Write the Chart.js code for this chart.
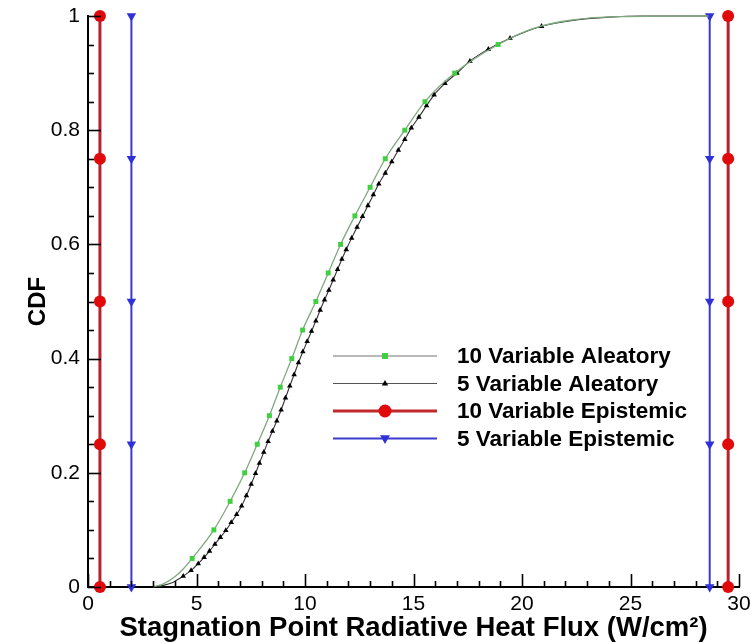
<!DOCTYPE html>
<html>
<head>
<meta charset="utf-8">
<script src="https://cdn.jsdelivr.net/npm/chart.js@4.4.1/dist/chart.umd.min.js"></script>
<style>
  html, body { margin: 0; padding: 0; background: #fff; }
</style>
</head>
<body>
<canvas id="cdfChart" width="751" height="643"></canvas>
<script>
// 10 variable aleatory CDF (green squares every 0.05)
const aleatory10X = [3.0, 3.5, 4.0, 4.4, 4.8, 5.8, 6.55, 7.22, 7.8, 8.36, 8.86, 9.39, 9.89, 10.5, 11.07, 11.64, 12.3, 13.0, 13.7, 14.6, 15.53, 16.9, 18.9, 20.5, 22.3, 24.5, 28.6];
const aleatory10Y = [0, 0.006, 0.018, 0.032, 0.05, 0.1, 0.15, 0.2, 0.25, 0.3, 0.35, 0.4, 0.45, 0.5, 0.55, 0.6, 0.65, 0.7, 0.75, 0.8, 0.85, 0.9, 0.95, 0.978, 0.993, 0.999, 1];

// 5 variable aleatory CDF (small black triangles)
const aleatory5X = [3.2, 3.9, 4.39, 4.75, 5.08, 5.35, 5.6, 5.85, 6.1, 6.35, 6.6, 6.85, 7.08, 7.3, 7.52, 7.72, 7.9, 8.1, 8.3, 8.5, 8.7, 8.9, 9.1, 9.3, 9.5, 9.7, 9.9, 10.1, 10.3, 10.5, 10.7, 10.9, 11.1, 11.3, 11.5, 11.7, 11.9, 12.15, 12.4, 12.65, 12.9, 13.15, 13.4, 13.7, 14.0, 14.3, 14.6, 14.9, 15.25, 15.6, 15.95, 16.45, 17.0, 17.6, 18.45, 19.45, 20.9, 22.5, 24.0, 25.5, 28.6];
const aleatory5Y = [0, 0.008, 0.019, 0.029, 0.041, 0.052, 0.063, 0.075, 0.087, 0.099, 0.113, 0.127, 0.142, 0.16, 0.18, 0.199, 0.217, 0.236, 0.255, 0.273, 0.291, 0.31, 0.331, 0.352, 0.372, 0.393, 0.412, 0.43, 0.448, 0.466, 0.485, 0.503, 0.52, 0.538, 0.556, 0.574, 0.591, 0.611, 0.63, 0.649, 0.668, 0.687, 0.706, 0.725, 0.745, 0.765, 0.784, 0.804, 0.823, 0.843, 0.862, 0.882, 0.9, 0.921, 0.942, 0.961, 0.982, 0.993, 0.998, 1, 1];

// epistemic bounds (vertical lines) and the CDF levels marked on them
const epistemicCdf = [0, 0.25, 0.5, 0.75, 1];
const epistemic10Bounds = [0.55, 29.5];
const epistemic5Bounds = [2.0, 28.65];

const xTickLabels = [0, 5, 10, 15, 20, 25, 30];
const yTickLabels = [0, 0.2, 0.4, 0.6, 0.8, 1];

const seriesLabels = ['10 Variable Aleatory', '5 Variable Aleatory', '10 Variable Epistemic', '5 Variable Epistemic'];

const FONT = '"Liberation Sans", Arial, sans-serif';

const toPoints = (xs, ys) => xs.map((x, i) => ({ x: x, y: ys[i] }));

// two vertical lines with a gap between them
function boundPoints(bounds) {
    const pts = [];
    bounds.forEach((b, k) => {
        if (k > 0) pts.push({ x: b, y: null });
        epistemicCdf.forEach(c => pts.push({ x: b, y: c }));
    });
    return pts;
}

const onStep = v => v > 0 && v < 1 && Math.abs(v * 20 - Math.round(v * 20)) < 1e-6;

function drawMark(ctx, style, x, y, r, fill, rot) {
    ctx.save();
    ctx.fillStyle = fill;
    ctx.translate(x, y);
    ctx.rotate((rot || 0) * Math.PI / 180);
    ctx.beginPath();
    if (style === 'circle') {
        ctx.arc(0, 0, r, 0, Math.PI * 2);
    } else if (style === 'rect') {
        ctx.rect(-r * 0.75, -r * 0.75, r * 1.5, r * 1.5);
    } else if (style === 'triangle') {
        ctx.moveTo(0, -r);
        ctx.lineTo(r * 0.9, r * 0.6);
        ctx.lineTo(-r * 0.9, r * 0.6);
        ctx.closePath();
    }
    ctx.fill();
    ctx.restore();
}

// Tecplot style inward ticks
const inwardTicks = {
    id: 'inwardTicks',
    afterDraw(chart) {
        const { ctx, scales: { x, y } } = chart;
        ctx.save();
        ctx.strokeStyle = '#000';
        ctx.lineWidth = 1.6;
        for (let v = 0; v <= 30; v++) {
            const px = Math.round(x.getPixelForValue(v)) + 0.5;
            const len = xTickLabels.includes(v) ? 13 : 6;
            ctx.beginPath();
            ctx.moveTo(px, y.bottom);
            ctx.lineTo(px, y.bottom - len);
            ctx.stroke();
        }
        for (let i = 0; i <= 20; i++) {
            const py = Math.round(y.getPixelForValue(i / 20)) + 0.5;
            const len = i % 4 === 0 ? 13 : 6;
            ctx.beginPath();
            ctx.moveTo(x.left, py);
            ctx.lineTo(x.left + len, py);
            ctx.stroke();
        }
        ctx.restore();
    }
};

// legend sitting inside the plot
const insideLegend = {
    id: 'insideLegend',
    afterDraw(chart) {
        const ctx = chart.ctx;
        chart.data.datasets.forEach((ds, i) => {
            const yy = 356 + i * 27.5;
            ctx.save();
            ctx.strokeStyle = ds.legendLine;
            ctx.lineWidth = ds.borderWidth;
            ctx.beginPath();
            ctx.moveTo(333, yy);
            ctx.lineTo(437, yy);
            ctx.stroke();
            drawMark(ctx, ds.pointStyle, 385, yy, ds.legendRadius, ds.pointBackgroundColor, ds.pointRotation);
            ctx.fillStyle = '#000';
            ctx.font = 'bold 22.5px ' + FONT;
            ctx.textBaseline = 'middle';
            ctx.fillText(ds.label, 457, yy + 1);
            ctx.restore();
        });
    }
};

const ctx = document.getElementById('cdfChart').getContext('2d');
new Chart(ctx, {
    type: 'scatter',
    data: {
        datasets: [{
            label: seriesLabels[0],
            data: toPoints(aleatory10X, aleatory10Y),
            showLine: true,
            borderColor: '#7fa97f',
            legendLine: '#a0a0a0',
            borderWidth: 1.3,
            pointStyle: 'rect',
            pointRadius: c => onStep(c.raw.y) ? 3.5 : 0,
            legendRadius: 4,
            pointBackgroundColor: '#3fcf3f',
            pointBorderWidth: 0,
            cubicInterpolationMode: 'monotone'
        }, {
            label: seriesLabels[1],
            data: toPoints(aleatory5X, aleatory5Y),
            showLine: true,
            borderColor: '#333333',
            legendLine: '#555555',
            borderWidth: 1.1,
            pointStyle: 'triangle',
            pointRadius: c => (c.raw.y > 0.01 && c.raw.y < 0.99) ? 3.2 : 0,
            legendRadius: 3.5,
            pointBackgroundColor: '#000',
            pointBorderWidth: 0,
            cubicInterpolationMode: 'monotone'
        }, {
            label: seriesLabels[2],
            data: boundPoints(epistemic10Bounds),
            showLine: true,
            spanGaps: false,
            borderColor: '#b8232b',
            legendLine: '#c0282c',
            borderWidth: 3,
            pointStyle: 'circle',
            pointRadius: 6,
            legendRadius: 6.5,
            pointBackgroundColor: '#e00a0a',
            pointBorderWidth: 0
        }, {
            label: seriesLabels[3],
            data: boundPoints(epistemic5Bounds),
            showLine: true,
            spanGaps: false,
            borderColor: '#3b3bd0',
            legendLine: '#3b3bd0',
            borderWidth: 2,
            pointStyle: 'triangle',
            pointRotation: 180,
            pointRadius: 5.5,
            legendRadius: 5.5,
            pointBackgroundColor: '#3030d8',
            pointBorderWidth: 0
        }]
    },
    options: {
        responsive: false,
        animation: false,
        clip: false,
        layout: { padding: { top: 16, right: 12, left: 0, bottom: 0 } },
        plugins: { legend: { display: false }, tooltip: { enabled: false } },
        scales: {
            x: {
                type: 'linear',
                min: 0, max: 30,
                grid: { display: false, drawTicks: false },
                border: { display: true, color: '#000', width: 2 },
                ticks: {
                    stepSize: 5,
                    padding: 5,
                    color: '#000',
                    font: { family: FONT, size: 21 },
                    callback: v => xTickLabels.includes(v) ? String(v) : ''
                },
                title: {
                    display: true,
                    text: 'Stagnation Point Radiative Heat Flux (W/cm²)',
                    color: '#000',
                    font: { family: FONT, size: 27.5, weight: 'bold', lineHeight: 1.05 },
                    padding: { top: 0, bottom: 0 }
                },
                afterFit: s => { s.height = 56; s.paddingLeft = 0; s.paddingRight = 0; }
            },
            y: {
                type: 'linear',
                min: 0, max: 1,
                grid: { display: false, drawTicks: false },
                border: { display: true, color: '#000', width: 2 },
                ticks: {
                    stepSize: 0.2,
                    padding: 8,
                    color: '#000',
                    font: { family: FONT, size: 21 },
                    callback: v => {
                        const hit = yTickLabels.find(t => Math.abs(t - v) < 1e-6);
                        return hit === undefined ? '' : String(hit);
                    }
                },
                title: {
                    display: true,
                    text: 'CDF',
                    color: '#000',
                    font: { family: FONT, size: 24, weight: 'bold' },
                    padding: { top: 24, bottom: 0 }
                },
                afterFit: s => { s.width = 88; s.paddingTop = 0; s.paddingBottom = 0; }
            }
        }
    },
    plugins: [inwardTicks, insideLegend]
});
</script>
</body>
</html>
